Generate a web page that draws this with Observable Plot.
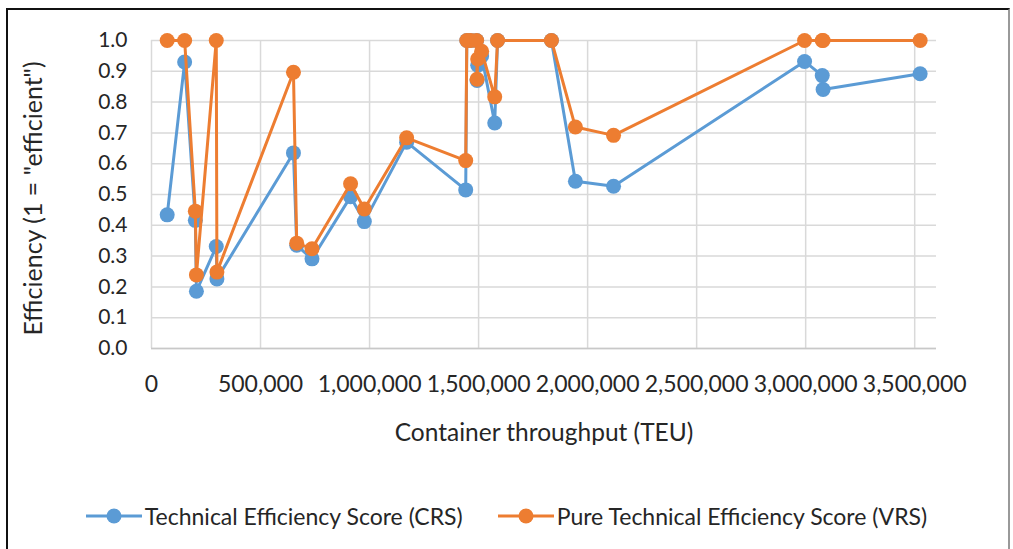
<!DOCTYPE html>
<html>
<head>
<meta charset="utf-8">
<script src="https://cdn.jsdelivr.net/npm/d3@7"></script>
<script src="https://cdn.jsdelivr.net/npm/@observablehq/plot@0.6"></script>
<style>
  html, body { margin: 0; padding: 0; background: #fff; }
  #wrap { position: relative; width: 1013px; height: 549px; overflow: hidden; font-family: Lato, "Open Sans", sans-serif; color: #262626; }
  #frame { position: absolute; left: 6px; top: 8px; width: 1004px; height: 560px; border: 2.5px solid #111; border-right-color: #999; box-sizing: border-box; }
  #chart { position: absolute; left: 0; top: 0; }
  #legend { position: absolute; left: 0; top: 502px; width: 1013px; display: flex; justify-content: center; gap: 35px; font-size: 23px; }
  .item { display: flex; align-items: center; gap: 3px; }
</style>
</head>
<body>
<div id="wrap">
  <div id="frame"></div>
  <div id="chart"></div>
  <div id="legend"></div>
</div>
<script>
// Container throughput (TEU), sorted
const teu = [72000, 152000, 201000, 206000, 297000, 300000, 651000, 666000, 736000, 913000, 976000, 1170000,
  1441000, 1446000, 1464000, 1491000, 1493000, 1496000, 1514000, 1574000, 1587000, 1834000, 1944000, 2119000,
  2995000, 3076000, 3080000, 3525000];
// Technical Efficiency Score (CRS)
const crs = [0.434, 0.93, 0.416, 0.186, 0.331, 0.226, 0.635, 0.335, 0.291, 0.493, 0.412, 0.670,
  0.515, 1.0, 1.0, 1.0, 0.87, 0.92, 0.95, 0.732, 1.0, 1.0, 0.543, 0.527,
  0.932, 0.886, 0.841, 0.892];
// Pure Technical Efficiency Score (VRS)
const vrs = [1.0, 1.0, 0.446, 0.239, 1.0, 0.248, 0.897, 0.342, 0.324, 0.535, 0.453, 0.684,
  0.610, 1.0, 1.0, 1.0, 0.874, 0.94, 0.965, 0.817, 1.0, 1.0, 0.719, 0.692,
  1.0, 1.0, 1.0, 1.0];

const seriesNames = ["Technical Efficiency Score (CRS)", "Pure Technical Efficiency Score (VRS)"];
const seriesColors = ["#5B9BD5", "#ED7D31"];
const xTicks = [0, 500000, 1000000, 1500000, 2000000, 2500000, 3000000, 3500000];
const yTicks = [0, 0.1, 0.2, 0.3, 0.4, 0.5, 0.6, 0.7, 0.8, 0.9, 1.0];
const xLabel = "Container throughput (TEU)";
const yLabel = "Efficiency (1 = \"efficient\")";

const crsData = teu.map((t, i) => ({x: t, y: crs[i]}));
const vrsData = teu.map((t, i) => ({x: t, y: vrs[i]}));

const chart = Plot.plot({
  width: 1013,
  height: 450,
  marginLeft: 151,
  marginRight: 77,
  marginTop: 40,
  marginBottom: 102,
  style: {fontFamily: "Lato, 'Open Sans', sans-serif", fontSize: "21px", color: "#262626", background: "transparent", overflow: "visible"},
  x: {domain: [0, 3600000]},
  y: {domain: [0, 1]},
  marks: [
    Plot.gridY(yTicks, {stroke: "#d9d9d9", strokeOpacity: 1, strokeWidth: 1.5}),
    Plot.gridX(xTicks, {stroke: "#d9d9d9", strokeOpacity: 1, strokeWidth: 1.5}),
    Plot.ruleY([0], {stroke: "#c8c8c8", strokeWidth: 1.5}),
    Plot.axisX({ticks: xTicks, tickSize: 0, tickPadding: 27, tickFormat: d3.format(","), label: null, fontSize: 23}),
    Plot.axisY({ticks: yTicks, tickSize: 0, tickPadding: 24, tickFormat: d3.format(".1f"), label: null, fontSize: 21}),
    Plot.text([xLabel], {frameAnchor: "bottom", dy: 92, fontSize: 24.5, text: d => d}),
    Plot.text([yLabel], {frameAnchor: "left", dx: -118, dy: 4, rotate: -90, textAnchor: "middle", fontSize: 25, text: d => d}),
    Plot.line(crsData, {x: "x", y: "y", stroke: seriesColors[0], strokeWidth: 3}),
    Plot.dot(crsData, {x: "x", y: "y", r: 7.5, fill: seriesColors[0], stroke: "none"}),
    Plot.line(vrsData, {x: "x", y: "y", stroke: seriesColors[1], strokeWidth: 3}),
    Plot.dot(vrsData, {x: "x", y: "y", r: 7.5, fill: seriesColors[1], stroke: "none"})
  ]
});
document.getElementById("chart").appendChild(chart);

const legend = document.getElementById("legend");
seriesNames.forEach((name, i) => {
  const item = document.createElement("div");
  item.className = "item";
  item.innerHTML = `<svg width="56" height="20"><line x1="0" y1="10" x2="56" y2="10" stroke="${seriesColors[i]}" stroke-width="3"/><circle cx="28" cy="10" r="7.5" fill="${seriesColors[i]}"/></svg><span>${name}</span>`;
  legend.appendChild(item);
});
</script>
</body>
</html>
